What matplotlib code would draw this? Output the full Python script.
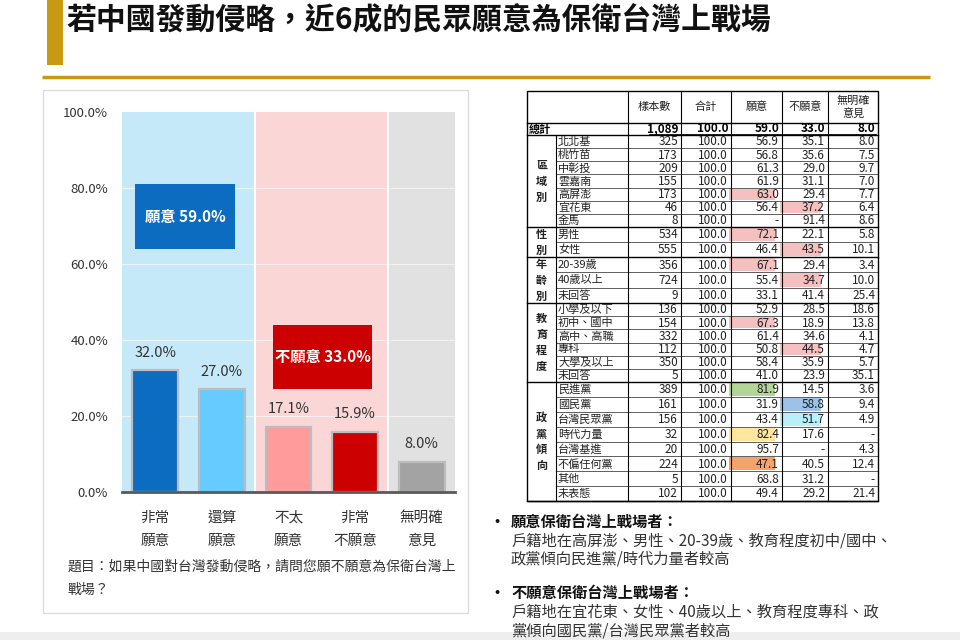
import matplotlib
matplotlib.use('Agg')
import matplotlib.pyplot as plt
from matplotlib.patches import Rectangle
from matplotlib.transforms import blended_transform_factory

plt.rcParams['font.family'] = ['Noto Sans CJK TC', 'DejaVu Sans']

# ---------------- data ----------------
title = '若中國發動侵略，近6成的民眾願意為保衛台灣上戰場'
categories = ['非常\n願意', '還算\n願意', '不太\n願意', '非常\n不願意', '無明確\n意見']
values = [32.0, 27.0, 17.1, 15.9, 8.0]
summary_labels = ['願意 59.0%', '不願意 33.0%']
ytick_values = [0, 20, 40, 60, 80, 100]
question_lines = ['題目：如果中國對台灣發動侵略，請問您願不願意為保衛台灣上', '戰場？']

col_headers = ['樣本數', '合計', '願意', '不願意', '無明確\n意見']
overall_row = ['總計', '1,089', '100.0', '59.0', '33.0', '8.0']
group_names = ['區\n域\n別', '性\n別', '年\n齡\n別', '教\n育\n程\n度', '政\n黨\n傾\n向']
group_sizes = [7, 2, 3, 6, 8]
row_names = ['北北基', '桃竹苗', '中彰投', '雲嘉南', '高屏澎', '宜花東', '金馬',
             '男性', '女性',
             '20-39歲', '40歲以上', '未回答',
             '小學及以下', '初中、國中', '高中、高職', '專科', '大學及以上', '未回答',
             '民進黨', '國民黨', '台灣民眾黨', '時代力量', '台灣基進', '不偏任何黨', '其他', '未表態']
sample_n = ['325', '173', '209', '155', '173', '46', '8',
            '534', '555',
            '356', '724', '9',
            '136', '154', '332', '112', '350', '5',
            '389', '161', '156', '32', '20', '224', '5', '102']
col_total = ['100.0'] * 26
col_yes = ['56.9', '56.8', '61.3', '61.9', '63.0', '56.4', '-',
           '72.1', '46.4',
           '67.1', '55.4', '33.1',
           '52.9', '67.3', '61.4', '50.8', '58.4', '41.0',
           '81.9', '31.9', '43.4', '82.4', '95.7', '47.1', '68.8', '49.4']
col_no = ['35.1', '35.6', '29.0', '31.1', '29.4', '37.2', '91.4',
          '22.1', '43.5',
          '29.4', '34.7', '41.4',
          '28.5', '18.9', '34.6', '44.5', '35.9', '23.9',
          '14.5', '58.8', '51.7', '17.6', '-', '40.5', '31.2', '29.2']
col_none = ['8.0', '7.5', '9.7', '7.0', '7.7', '6.4', '8.6',
            '5.8', '10.1',
            '3.4', '10.0', '25.4',
            '18.6', '13.8', '4.1', '4.7', '5.7', '35.1',
            '3.6', '9.4', '4.9', '-', '4.3', '12.4', '-', '21.4']

bullet_heads = ['願意保衛台灣上戰場者：', '不願意保衛台灣上戰場者：']
bullet_bodies = [['戶籍地在高屏澎、男性、20-39歲、教育程度初中/國中、', '政黨傾向民進黨/時代力量者較高'],
                 ['戶籍地在宜花東、女性、40歲以上、教育程度專科、政', '黨傾向國民黨/台灣民眾黨者較高']]

# ---------------- styles ----------------
bar_colors = ['#0b6cc0', '#66ccff', '#ff9b9b', '#cc0000', '#a3a3a3']
box_colors = ['#0b6cc0', '#cc0000']
gold = '#c79a12'
pink = '#f4c0c0'
# (row index, column key, colour)
highlights = [(4, 'yes', pink), (5, 'no', pink), (7, 'yes', pink), (8, 'no', pink),
              (9, 'yes', pink), (10, 'no', pink), (13, 'yes', pink), (15, 'no', pink),
              (18, 'yes', '#b4d59a'), (19, 'no', '#9cc3e6'), (20, 'no', '#b8eff8'),
              (21, 'yes', '#ffe6a0'), (23, 'yes', '#f5a36c')]

fig = plt.figure(figsize=(9.6, 6.4), dpi=100)
cv = fig.add_axes([0, 0, 1, 1])
cv.set_xlim(0, 960)
cv.set_ylim(640, 0)
cv.axis('off')

# header
cv.add_patch(Rectangle((47, 0), 16, 65, color=gold, lw=0))
cv.text(66, 20, title, fontsize=21.5, fontweight='heavy', va='center', ha='left', color='#111')
cv.plot([42, 930], [77, 77], color=gold, lw=2.5, solid_capstyle='butt')
cv.add_patch(Rectangle((0, 632), 960, 8, color='#eeeeee', lw=0))

# chart panel
cv.add_patch(Rectangle((43, 90), 425, 523, fill=False, edgecolor='#dddddd', lw=1))

ax = fig.add_axes([122 / 960, 148 / 640, 333 / 960, 380 / 640])
ax.set_zorder(2)
x = list(range(len(values)))
ax.axvspan(-0.5, 1.5, color='#c6e9fa', lw=0, zorder=0)
ax.axvspan(1.5, 3.5, color='#fad6d6', lw=0, zorder=0)
ax.axvspan(3.5, 4.5, color='#e1e1e1', lw=0, zorder=0)
for xs in (1.5, 3.5):
    ax.axvline(xs, color='white', lw=1.5, zorder=1)
for yv in ytick_values[1:-1]:
    ax.axhline(yv, color='white', lw=0.8, alpha=0.6, zorder=1)
ax.bar(x, values, width=0.69, color=bar_colors, edgecolor='#bdbdbd', linewidth=1.6, zorder=3)
for xi, v in zip(x, values):
    ax.text(xi, v + 4.7, f'{v:.1f}%', ha='center', va='center', fontsize=10.5, color='#333333', zorder=5)

ax.add_patch(Rectangle((-0.30, 64), 1.50, 17, color=box_colors[0], lw=0, zorder=4))
ax.text(0.45, 72.5, summary_labels[0], color='white', fontsize=11, fontweight='bold',
        ha='center', va='center', zorder=5)
ax.add_patch(Rectangle((1.76, 27.1), 1.50, 16.8, color=box_colors[1], lw=0, zorder=4))
ax.text(2.51, 35.5, summary_labels[1], color='white', fontsize=11, fontweight='bold',
        ha='center', va='center', zorder=5)

ax.set_xlim(-0.5, 4.5)
ax.set_ylim(0, 100)
ax.set_yticks(ytick_values)
ax.set_yticklabels([f'{t:.1f}%' for t in ytick_values], fontsize=9.5, color='#333333')
ax.set_xticks(x)
ax.set_xticklabels([''] * len(x))
trans = blended_transform_factory(ax.transData, ax.transAxes)
line_baselines = [-30 / 380, -53 / 380]
for xi, lab in zip(x, categories):
    for ln, txt in enumerate(lab.split('\n')):
        ax.text(xi, line_baselines[ln], txt, transform=trans, fontsize=10.5, color='#333333',
                ha='center', va='baseline', clip_on=False)
ax.tick_params(axis='both', length=0)
ax.tick_params(axis='y', pad=10)
for s in ('top', 'right', 'left'):
    ax.spines[s].set_visible(False)
ax.spines['bottom'].set_color('#595959')
ax.spines['bottom'].set_linewidth(2)
ax.spines['bottom'].set_zorder(6)

cv.text(68, 567, question_lines[0], fontsize=10, va='center', ha='left', color='#333333')
cv.text(68, 590, question_lines[1], fontsize=10, va='center', ha='left', color='#333333')

# ---------------- table ----------------
col_x = [527, 556, 628, 681, 731, 782, 828, 878]
y_head_top, y_head_bot = 91, 123
y_total_bot = 135
group_row_h = [13.15, 15.0, 15.33, 13.17, 14.88]
fs_num = 8.5
fs_txt = 8
tc = '#222222'

columns = {'n': sample_n, 'total': col_total, 'yes': col_yes, 'no': col_no, 'none': col_none}
col_keys = ['n', 'total', 'yes', 'no', 'none']

# header texts
for j, h in enumerate(col_headers):
    cx = (col_x[2 + j] + col_x[3 + j]) / 2
    cv.text(cx, (y_head_top + y_head_bot) / 2, h, fontsize=fs_txt, ha='center', va='center',
            color=tc, linespacing=1.3)

# total row
ty = (y_head_bot + y_total_bot) / 2
cv.text(col_x[0] + 2, ty, overall_row[0], fontsize=fs_txt, fontweight='bold', ha='left', va='center', color='#000')
for j, val in enumerate(overall_row[1:]):
    cv.text(col_x[3 + j] - 3, ty, val, fontsize=fs_num, fontweight='bold', ha='right', va='center', color='#000')
cv.plot([col_x[3] - 32, col_x[7] - 2], [y_total_bot - 1.2, y_total_bot - 1.2], color='#000', lw=0.6)

# rows
hl_map = {(r, c): col for r, c, col in highlights}
y = y_total_bot
r = 0
group_bounds = [y]
for g, (gname, gsize) in enumerate(zip(group_names, group_sizes)):
    h = group_row_h[g]
    g_top = y
    for k in range(gsize):
        top = y
        bot = y + h
        cy = (top + bot) / 2
        for j, key in enumerate(col_keys):
            if (r, key) in hl_map:
                x0 = col_x[2 + j]
                cv.add_patch(Rectangle((x0 - 2, top + 1), (col_x[3 + j] - x0) - 5, h - 2,
                                       color=hl_map[(r, key)], lw=0, zorder=1))
            cv.text(col_x[3 + j] - 3, cy + 0.3, columns[key][r], fontsize=fs_num, ha='right', va='center',
                    color=tc, zorder=3)
        cv.text(col_x[1] + 2, cy + 0.3, row_names[r], fontsize=fs_txt, ha='left', va='center', color=tc, zorder=3)
        if k < gsize - 1:
            cv.plot([col_x[1], col_x[7]], [bot, bot], color='#444444', lw=0.6, zorder=2)
        y = bot
        r += 1
    cv.text((col_x[0] + col_x[1]) / 2, (g_top + y) / 2, gname, fontsize=fs_txt, fontweight='bold',
            ha='center', va='center', color=tc, linespacing=1.3)
    group_bounds.append(y)

table_bot = y
# horizontal group lines
for yb in [y_head_bot] + group_bounds:
    cv.plot([col_x[0], col_x[7]], [yb, yb], color='#000', lw=1.0, zorder=2)
# outer border
cv.add_patch(Rectangle((col_x[0], y_head_top), col_x[7] - col_x[0], table_bot - y_head_top,
                       fill=False, edgecolor='#000', lw=1.0, zorder=2))
# vertical lines
cv.plot([col_x[1], col_x[1]], [y_total_bot, table_bot], color='#000', lw=0.8, zorder=2)
for xv in col_x[2:7]:
    cv.plot([xv, xv], [y_head_top, table_bot], color='#000', lw=0.8, zorder=2)

# bullets
by = [522, 593]
for i in range(2):
    cv.text(497, by[i], '•', fontsize=11, fontweight='bold', ha='center', va='center', color='#111')
    cv.text(511, by[i], bullet_heads[i], fontsize=11, fontweight='bold', ha='left', va='center', color='#111')
    for k, line in enumerate(bullet_bodies[i]):
        cv.text(511, by[i] + 19 + 18.5 * k, line, fontsize=11, ha='left', va='center', color='#333333')

fig.savefig('out.png', dpi=100)
